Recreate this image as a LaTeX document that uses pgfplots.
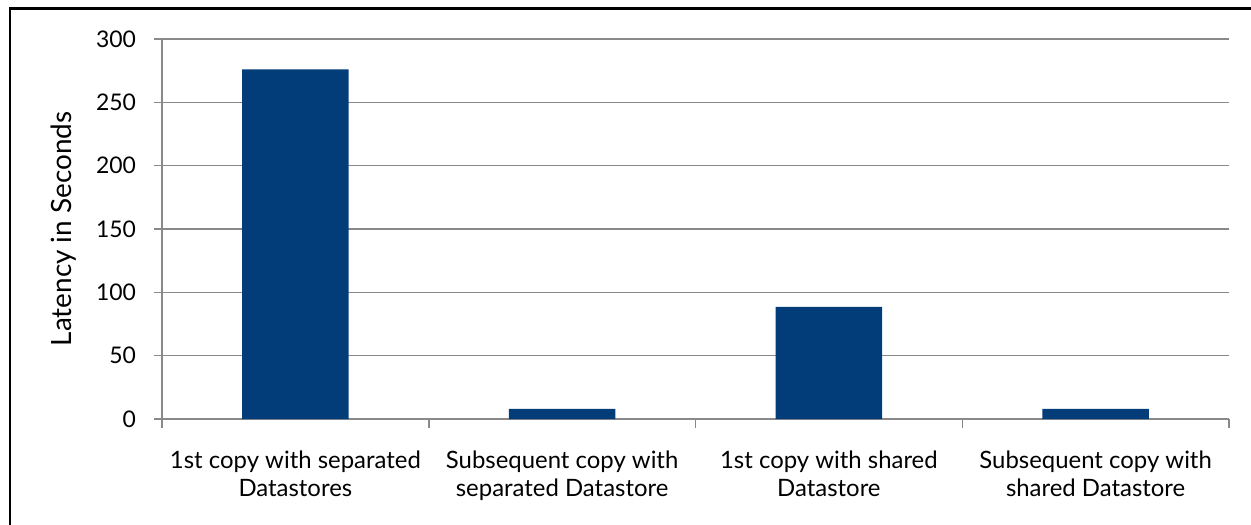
\documentclass[border=0pt]{standalone}
\usepackage{fontspec}
\setmainfont{Lato}
\usepackage{pgfplots}
\pgfplotsset{compat=1.18}
\definecolor{barblue}{HTML}{023D7A}
\definecolor{gridgray}{HTML}{898989}

\begin{document}
\begin{tikzpicture}
  % canvas 1251 x 525 px, 1 px = 0.5bp
  \useasboundingbox (0bp,0bp) rectangle (625.5bp,262.5bp);
  \draw[line width=1.4bp] (5bp,0bp) -- (5bp,258.3bp) -- (625.5bp,258.3bp);
  \begin{axis}[
    at={(81bp,53bp)}, anchor=south west,
    scale only axis,
    width=533.5bp, height=190bp,
    ymin=0, ymax=300,
    ytick={0,50,...,300},
    xmin=-0.5, xmax=3.5,
    xtick={0,1,2,3},
    xticklabels={
      {1st copy with separated\\Datastores},
      {Subsequent copy with\\separated Datastore},
      {1st copy with shared\\Datastore},
      {Subsequent copy with\\shared Datastore}},
    minor xtick={-0.5,0.5,1.5,2.5,3.5},
    major x tick style={draw=none},
    tick align=outside,
    major tick length=4bp,
    minor tick length=4.5bp,
    axis x line*=bottom, axis y line*=left,
    axis line style={gridgray, line width=0.75bp, -},
    tick style={gridgray, line width=0.75bp},
    ymajorgrids,
    grid style={gridgray, line width=0.75bp},
    /pgf/number format/assume math mode=true,
    ticklabel style={font=\fontsize{11.5}{14}\selectfont, text=black},
    xticklabel style={font=\fontsize{12}{14}\selectfont, align=center, yshift=-8.5bp},
    yticklabel style={xshift=-5.5bp},
    ylabel={Latency in Seconds},
    ylabel style={font=\fontsize{14}{16}\selectfont},
    ylabel shift=3bp,
    ybar, bar width=0.4,
    clip=false,
  ]
    \addplot[fill=barblue, draw=none] coordinates {
      (0,276) (1,8) (2,88.5) (3,8)
    };
  \end{axis}
\end{tikzpicture}
\end{document}
